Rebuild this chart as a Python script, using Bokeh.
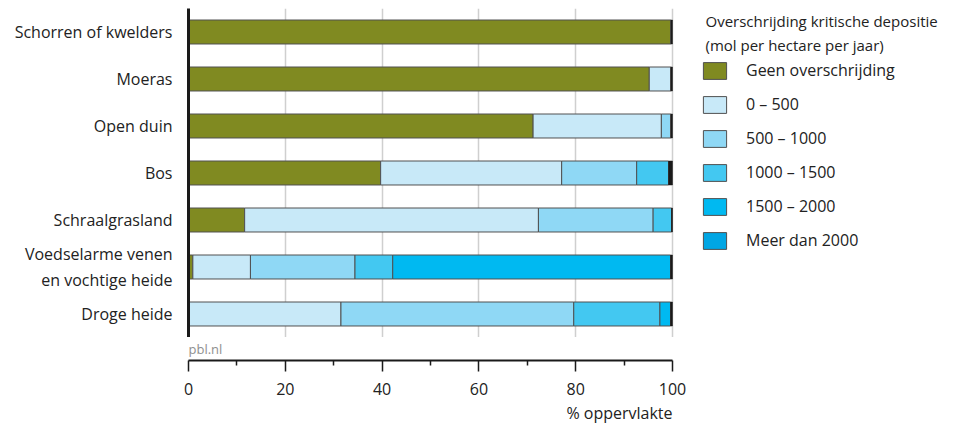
from bokeh.plotting import figure
from bokeh.models import (FactorRange, Range1d, ColumnDataSource, Legend, LegendItem,
                          Label, FixedTicker)
from bokeh.layouts import column
from bokeh.embed import file_html
from bokeh.resources import INLINE
import numpy as np

# ---------------- data ----------------
categories = ["Schorren of kwelders", "Moeras", "Open duin", "Bos", "Schraalgrasland",
              "Voedselarme venen\nen vochtige heide", "Droge heide"]
series_names = ["Geen overschrijding", "0 – 500", "500 – 1000", "1000 – 1500",
                "1500 – 2000", "Meer dan 2000"]
geen      = [99.7, 95.2, 71.2, 39.7, 11.6, 0.9, 0.0]
d0_500    = [0.0, 4.5, 26.5, 37.4, 60.7, 11.9, 31.5]
d500_1000 = [0.0, 0.0, 2.0, 15.5, 23.7, 21.6, 48.1]
d1000_1500 = [0.0, 0.0, 0.0, 6.6, 3.8, 7.8, 17.8]
d1500_2000 = [0.0, 0.0, 0.0, 0.0, 0.0, 57.4, 2.2]
meer_2000 = [0.0, 0.0, 0.0, 0.0, 0.0, 0.0, 0.0]
x_ticks = [0, 20, 40, 60, 80, 100]
x_minor = [10, 30, 50, 70, 90]
legend_title = ["Overschrijding kritische depositie", "(mol per hectare per jaar)"]
x_title = "% oppervlakte"
source_note = "pbl.nl"

colors = ["#808a21", "#c8e9f8", "#8fd8f5", "#43c8f1", "#00b9f1", "#00a6e4"]
keys = ["s0", "s1", "s2", "s3", "s4", "s5"]
FONT = "Open Sans"
TXT = "#222222"
FS = "16px"

PLOT_W = 484          # pixels for 0..100 %
FRAME_W = 765         # frame also covers the legend area
XMAX = 100 * FRAME_W / PLOT_W

data = dict(cat=categories)
for k, v in zip(keys, [geen, d0_500, d500_1000, d1000_1500, d1500_2000, meer_2000]):
    data[k] = v
totals = np.sum([geen, d0_500, d500_1000, d1000_1500, d1500_2000, meer_2000], axis=0)
data["total"] = list(totals)
data["full"] = [100.0] * len(categories)
src = ColumnDataSource(data)

# ---------------- main figure ----------------
p = figure(frame_width=FRAME_W, frame_height=329, output_backend="svg", toolbar_location=None,
           y_range=FactorRange(*categories[::-1], range_padding=0),
           x_range=Range1d(0, XMAX), x_axis_location=None,
           min_border_left=188, min_border_right=0, min_border_top=8, min_border_bottom=0)
p.outline_line_color = None
p.ygrid.grid_line_color = None
p.xgrid.ticker = FixedTicker(ticks=x_ticks)
p.xgrid.grid_line_color = "#cfcfcf"
p.xgrid.grid_line_width = 1.5

renderers = p.hbar_stack(keys, y="cat", height=0.51, color=colors, source=src,
                         line_color="#505050", line_width=1)
p.hbar(y="cat", left="total", right="full", height=0.51, source=src,
       fill_color="#1a1a1a", line_color="#1a1a1a", line_width=0.5)

ya = p.yaxis[0]
ya.axis_line_width = 3
ya.axis_line_color = "#1a1a1a"
ya.major_tick_out = 0
ya.major_tick_in = 0
ya.minor_tick_out = 0
ya.major_label_standoff = 16
ya.major_label_text_font = FONT
ya.major_label_text_font_size = FS
ya.major_label_text_color = TXT

legend = Legend(items=[LegendItem(label=n, renderers=[r]) for n, r in zip(series_names, renderers)],
                location=(512, 86), glyph_width=29, glyph_height=21, spacing=12,
                label_standoff=17, padding=10, margin=0, border_line_color=None,
                background_fill_alpha=0, label_text_font=FONT,
                label_text_font_size=FS, label_text_color=TXT, label_height=21)
p.add_layout(legend, "center")

for i, t in enumerate(legend_title):
    p.add_layout(Label(x=(705 - 188) / PLOT_W * 100, y=317 - i * 24, y_units="screen", text=t,
                       text_font=FONT, text_font_size="15px", text_color=TXT,
                       text_baseline="middle", text_align="left"))

# ---------------- axis figure ----------------
p2 = figure(frame_width=FRAME_W, frame_height=23, output_backend="svg", toolbar_location=None,
            x_range=p.x_range, y_range=Range1d(0, 1), y_axis_location=None,
            min_border_left=188, min_border_right=0, min_border_top=0, min_border_bottom=42)
p2.outline_line_color = None
p2.grid.grid_line_color = None
xa = p2.xaxis[0]
xa.ticker = FixedTicker(ticks=x_ticks, minor_ticks=x_minor)
xa.bounds = (0, 100)
xa.axis_line_width = 2
xa.axis_line_color = "#1a1a1a"
xa.major_tick_in = 0
xa.major_tick_out = 11
xa.minor_tick_in = 0
xa.minor_tick_out = 5
xa.major_tick_line_width = 1.5
xa.minor_tick_line_width = 1.5
xa.major_tick_line_color = "#1a1a1a"
xa.minor_tick_line_color = "#1a1a1a"
xa.major_label_standoff = 11
xa.major_label_text_font = FONT
xa.major_label_text_font_size = FS
xa.major_label_text_color = TXT

p2.add_layout(Label(x=0, y=0.5, text=source_note, text_font=FONT, text_font_size="13px",
                    text_color="#8f8f8f", text_baseline="middle", text_align="left"))

# ---------------- axis title strip ----------------
p3 = figure(frame_width=FRAME_W, frame_height=24, output_backend="svg", toolbar_location=None,
            x_range=p.x_range, y_range=Range1d(0, 1), x_axis_location=None, y_axis_location=None,
            min_border_left=188, min_border_right=0, min_border_top=0, min_border_bottom=0)
p3.outline_line_color = None
p3.grid.grid_line_color = None
p3.add_layout(Label(x=100, y=0.55, text=x_title, text_font=FONT, text_font_size=FS,
                    text_color=TXT, text_baseline="middle", text_align="right"))

layout = column(p, p2, p3, spacing=0)
open("out.html", "w").write(file_html(layout, INLINE))
